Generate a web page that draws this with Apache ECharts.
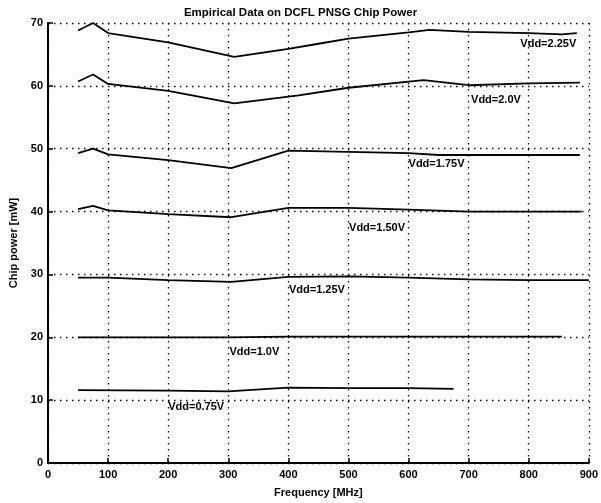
<!doctype html>
<html>
<head>
    <meta charset="utf-8">
    <title>Empirical Data on DCFL PNSG Chip Power</title>
    <style>
        html, body { margin: 0; padding: 0; background: #fff; }
        #chart { width: 601px; height: 503px; }
    </style>
</head>
<body>
    <div id="chart"></div>
</body>
</html>
<script type="text/javascript" src="https://cdn.jsdelivr.net/npm/echarts@6/dist/echarts.min.js"></script>
<script type="text/javascript">
    // frequency [MHz] and chip power [mW], one pair per supply voltage
    var f225 = [50, 75, 100, 200, 310, 400, 450, 500, 600, 635, 700, 800, 855, 880];
    var p225 = [68.8, 70.0, 68.4, 66.9, 64.6, 65.9, 66.7, 67.5, 68.5, 68.9, 68.6, 68.4, 68.2, 68.4];

    var f200 = [50, 75, 100, 200, 310, 417, 500, 625, 700, 800, 885];
    var p200 = [60.7, 61.8, 60.3, 59.2, 57.2, 58.5, 59.7, 60.9, 60.1, 60.4, 60.5];

    var f175 = [50, 75, 100, 200, 305, 400, 500, 600, 650, 700, 885];
    var p175 = [49.3, 50.0, 49.1, 48.2, 46.9, 49.7, 49.5, 49.3, 49.0, 49.0, 49.0];

    var f150 = [50, 75, 100, 200, 305, 400, 500, 600, 700, 800, 888];
    var p150 = [40.4, 40.9, 40.2, 39.6, 39.1, 40.6, 40.6, 40.3, 40.0, 40.0, 40.0];

    var f125 = [50, 100, 200, 305, 400, 500, 600, 700, 800, 900];
    var p125 = [29.5, 29.5, 29.1, 28.8, 29.6, 29.7, 29.5, 29.2, 29.1, 29.1];

    var f100 = [50, 200, 300, 400, 500, 600, 700, 855];
    var p100 = [20.0, 20.0, 20.0, 20.1, 20.1, 20.1, 20.1, 20.1];

    var f075 = [50, 200, 300, 400, 500, 600, 675];
    var p075 = [11.6, 11.5, 11.4, 12.0, 11.9, 11.9, 11.8];

    var names = ['Vdd=2.25V', 'Vdd=2.0V', 'Vdd=1.75V', 'Vdd=1.50V', 'Vdd=1.25V', 'Vdd=1.0V', 'Vdd=0.75V'];
    var freqs = [f225, f200, f175, f150, f125, f100, f075];
    var powers = [p225, p200, p175, p150, p125, p100, p075];
    // where each curve's label sits (left edge, text middle), data units
    var labelX = [786, 704, 600, 501, 401, 302, 200];
    var labelY = [66.7, 57.8, 47.5, 37.4, 27.6, 17.7, 8.9];

    var xTicks = [0, 100, 200, 300, 400, 500, 600, 700, 800, 900];
    var yTicks = [0, 10, 20, 30, 40, 50, 60, 70];

    var dotted = { color: '#000', width: 1.3, type: [1.5, 4.5] };
    var tickFont = { color: '#000', fontSize: 11, fontWeight: 'bold', fontFamily: 'Liberation Sans, Arial, sans-serif' };

    var series = [];
    for (var i = 0; i < names.length; i++) {
        var pts = [];
        for (var j = 0; j < freqs[i].length; j++) {
            pts.push([freqs[i][j], powers[i][j]]);
        }
        series.push({
            name: names[i],
            type: 'line',
            data: pts,
            showSymbol: false,
            symbol: 'none',
            lineStyle: { color: '#000', width: 1.8 },
            silent: true,
            markPoint: {
                symbol: 'circle',
                symbolSize: 0,
                silent: true,
                label: {
                    show: true,
                    position: 'right',
                    distance: 0,
                    formatter: names[i],
                    color: '#000',
                    fontSize: 11,
                    fontWeight: 'bold',
                    fontFamily: 'Liberation Sans, Arial, sans-serif'
                },
                data: [{ coord: [labelX[i], labelY[i]] }]
            }
        });
    }

    var myChart = echarts.init(document.getElementById('chart'));
    var option = {
        backgroundColor: '#fff',
        animation: false,
        title: {
            text: 'Empirical Data on DCFL PNSG Chip Power',
            left: 'center',
            top: 2,
            textStyle: { color: '#000', fontSize: 11.5, fontWeight: 'bold', fontFamily: 'Liberation Sans, Arial, sans-serif' }
        },
        grid: { left: 47, right: 8, top: 23, bottom: 38 },
        xAxis: {
            type: 'value',
            min: xTicks[0],
            max: xTicks[xTicks.length - 1],
            interval: 100,
            name: 'Frequency [MHz]',
            nameLocation: 'middle',
            nameGap: 24,
            nameTextStyle: tickFont,
            axisLine: { lineStyle: { color: '#000', width: 2 } },
            axisTick: { inside: true, length: 5, lineStyle: { color: '#000', width: 1.5 } },
            axisLabel: Object.assign({ margin: 6 }, tickFont),
            splitLine: { show: true, lineStyle: dotted }
        },
        yAxis: {
            type: 'value',
            min: yTicks[0],
            max: yTicks[yTicks.length - 1],
            interval: 10,
            name: 'Chip power [mW]',
            nameLocation: 'middle',
            nameGap: 29,
            nameMoveOverlap: false,
            nameTextStyle: tickFont,
            axisLine: { show: true, lineStyle: { color: '#000', width: 2 } },
            axisTick: { show: true, inside: true, length: 5, lineStyle: { color: '#000', width: 1.5 } },
            axisLabel: Object.assign({ margin: 5 }, tickFont),
            splitLine: { show: true, lineStyle: dotted }
        },
        series: series
    };
    myChart.setOption(option);
</script>
